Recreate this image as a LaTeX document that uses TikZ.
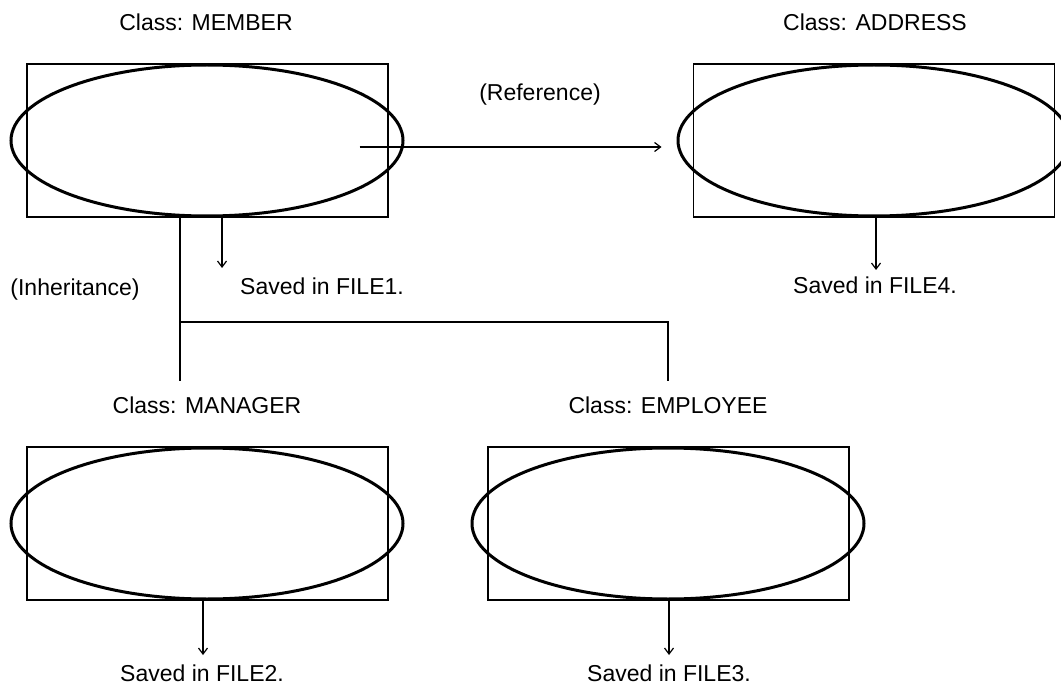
\documentclass[tikz,border=0pt]{standalone}
\usepackage{fontspec}
\setmainfont{Liberation Sans}
\usetikzlibrary{shapes.geometric,arrows.meta}
\tikzset{
  classbox/.style={draw, line width=1.1pt, minimum width=361pt, minimum height=153pt, inner sep=0pt},
  classoval/.style={draw, ellipse, line width=3pt, minimum width=392pt, minimum height=151pt, inner sep=0pt},
  lbl/.style={font=\fontsize{23}{27}\selectfont, inner sep=0pt},
}
\begin{document}
\begin{tikzpicture}[x=1pt, y=-1pt, line width=1.2pt, >={Straight Barb[length=6pt,width=9pt]}]
\useasboundingbox[fill=white] (0,0) rectangle (1061,687);
% Classes
\node[classbox] (member) at (207.5,140.5) {};
\node[classoval] (memberoval) at (207,140.5) {};
\node[classbox] (address) at (874,140.5) {};
\node[classoval] (addressoval) at (874,140.5) {};
\node[classbox] (manager) at (207.5,523.5) {};
\node[classoval] (manageroval) at (207,523.5) {};
\node[classbox] (employee) at (668.5,523.5) {};
\node[classoval] (employeeoval) at (668,523.5) {};
% Labels
\node[lbl] (memberlbl) at (206,22) {Class: MEMBER};
\node[lbl] (addresslbl) at (875,22) {Class: ADDRESS};
\node[lbl] (managerlbl) at (207,405) {Class: MANAGER};
\node[lbl] (employeelbl) at (668,405) {Class: EMPLOYEE};
\node[lbl] (reflbl) at (540,95) {(Reference)};
\node[lbl] (inhlbl) at (75,290) {(Inheritance)};
\node[lbl] (file1) at (322,286) {Saved in FILE1.};
\node[lbl] (file4) at (875,285) {Saved in FILE4.};
\node[lbl] (file2) at (202,673) {Saved in FILE2.};
\node[lbl] (file3) at (669,673) {Saved in FILE3.};
% Reference
\draw[->] ([xshift=-29pt,yshift=-6.5pt]member.east) -- ([xshift=-15pt,yshift=-6.5pt]addressoval.west);
% Inheritance
\coordinate (split) at (180,322);
\coordinate (tomanager) at (180,381);
\coordinate (toemployee) at (668,381);
\draw ([xshift=-27.5pt]member.south) -- (tomanager);
\draw (split) -| (toemployee);
% Files
\coordinate (f1tip) at (222,268);
\coordinate (f4tip) at (876,270);
\coordinate (f2tip) at (203,655);
\coordinate (f3tip) at (669,655);
\draw[->] (member.south -| f1tip) -- (f1tip);
\draw[->] (address.south -| f4tip) -- (f4tip);
\draw[->] (manager.south -| f2tip) -- (f2tip);
\draw[->] (employee.south -| f3tip) -- (f3tip);
\end{tikzpicture}
\end{document}
